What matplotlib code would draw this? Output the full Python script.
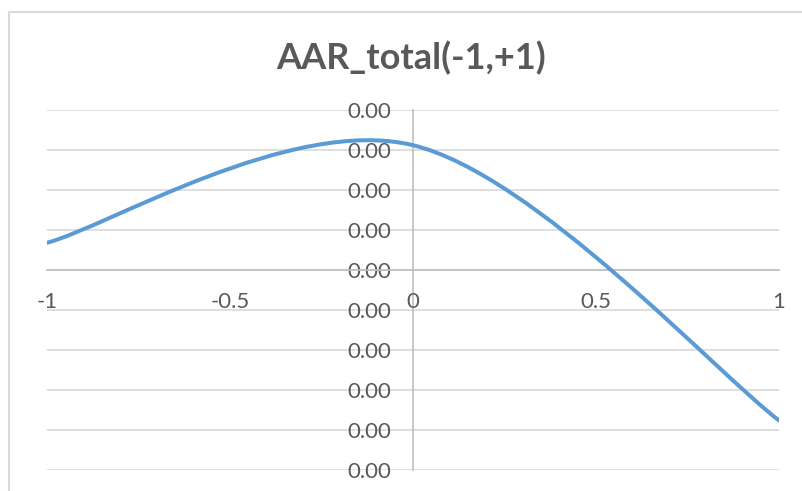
import matplotlib
matplotlib.use("Agg")
import matplotlib.pyplot as plt
from matplotlib.path import Path
from matplotlib.patches import PathPatch, Rectangle
from matplotlib.ticker import FuncFormatter
import numpy as np

# event window days and average abnormal returns
days = [-1, 0, 1]
aar = [0.00034, 0.00156, -0.00188]
title = "AAR_total(-1,+1)"
xticks = [-1, -0.5, 0, 0.5, 1]
xticklabels = ["-1", "-0.5", "0", "0.5", "1"]
yticks = [-0.0025, -0.002, -0.0015, -0.001, -0.0005, 0, 0.0005, 0.001, 0.0015, 0.002]

TXT = "#595959"
plt.rcParams['font.family'] = ['Lato', 'DejaVu Sans']

W, H = 803, 491
fig = plt.figure(figsize=(W / 100, H / 100), dpi=100)

# plot area in pixels
left, right, top, bottom = 47, 779, 110, 470
ax = fig.add_axes([left / W, (H - bottom) / H, (right - left) / W, (bottom - top) / H])
ax.set_xlim(-1, 1)
ax.set_ylim(yticks[0], yticks[-1])

# chart border (cut at right / bottom like the screenshot)
fig.add_artist(Rectangle((9 / W, -0.1), 1.2, (H - 12) / H + 0.1, transform=fig.transFigure,
                         fill=False, edgecolor="#d9d9d9", linewidth=1.5))

for yv in yticks:
    ax.axhline(yv, color="#d9d9d9", linewidth=1.2, zorder=0)

# Excel-style smoothed line: cubic bezier with Catmull-Rom control points
pts = np.column_stack([days, aar])
verts = [pts[0]]
codes = [Path.MOVETO]
n = len(pts)
for i in range(n - 1):
    p_prev = pts[i - 1] if i > 0 else pts[i]
    p_next = pts[i + 2] if i + 2 < n else pts[i + 1]
    c1 = pts[i] + (pts[i + 1] - p_prev) / 6
    c2 = pts[i + 1] - (p_next - pts[i]) / 6
    verts += [c1, c2, pts[i + 1]]
    codes += [Path.CURVE4] * 3
ax.add_patch(PathPatch(Path(verts, codes), facecolor="none", edgecolor="#5b9bd5",
                       linewidth=2.9, capstyle="round", zorder=3))

for s in ["top", "right"]:
    ax.spines[s].set_visible(False)
ax.spines["left"].set_position(("data", 0))
ax.spines["bottom"].set_position(("data", 0))
ax.spines["left"].set_color("#bfbfbf")
ax.spines["bottom"].set_color("#bfbfbf")
ax.spines["left"].set_linewidth(1.2)
ax.spines["bottom"].set_linewidth(1.2)
ax.spines["left"].set_zorder(1)

ax.set_xticks(xticks)
ax.set_xticklabels(xticklabels)
ax.set_yticks(yticks)
ax.yaxis.set_major_formatter(FuncFormatter(lambda v, p: "0.00"))
ax.tick_params(axis="x", length=0, pad=16, labelsize=16, labelcolor=TXT)
ax.tick_params(axis="y", length=0, pad=16, labelsize=16, labelcolor=TXT)

fig.text(411 / W, 1 - 58 / H, title, ha="center", va="center",
         fontsize=26, fontweight="bold", color=TXT)

fig.savefig("out.png", dpi=100)
